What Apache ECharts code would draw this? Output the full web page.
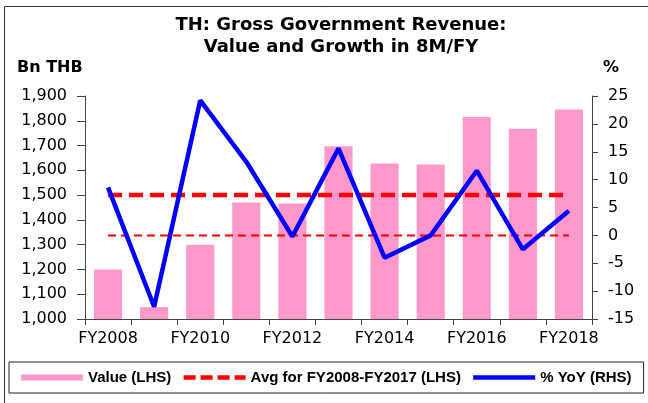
<!DOCTYPE html>
<html>
<head>
<meta charset="utf-8">
<script src="https://cdn.jsdelivr.net/npm/echarts@6/dist/echarts.min.js"></script>
<style>
html, body { margin: 0; padding: 0; background: #fff; }
#main { width: 648px; height: 403px; }
</style>
</head>
<body>
<div id="main"></div>
<script>
var years = ['FY2008','FY2009','FY2010','FY2011','FY2012','FY2013','FY2014','FY2015','FY2016','FY2017','FY2018'];
var value = [1200, 1048, 1300, 1470, 1466, 1697, 1628, 1624, 1815, 1768, 1846];
var avg = [1500, 1500, 1500, 1500, 1500, 1500, 1500, 1500, 1500, 1500, 1500];
var yoy = [8.6, -12.8, 24.2, 13.2, -0.2, 15.6, -4.0, 0.0, 11.6, -2.5, 4.4];
var zero = [0, 0, 0, 0, 0, 0, 0, 0, 0, 0, 0];

var myChart = echarts.init(document.getElementById('main'));
var fnt = 'DejaVu Sans';
var axisCol = '#444';

option = {
    animation: false,
    grid: { left: 85, right: 56, top: 96, bottom: 84 },
    graphic: [
        { type: 'rect', shape: { x: 4.5, y: 6.5, width: 700, height: 500 },
          style: { fill: 'none', stroke: '#333', lineWidth: 1 } },
        { type: 'text', x: 341, y: 14, style: { text: 'TH: Gross Government Revenue:\nValue and Growth in 8M/FY',
          fontFamily: fnt, fontWeight: 'bold', fontSize: 18, lineHeight: 22, align: 'center', fill: '#000' } },
        { type: 'text', x: 17, y: 60, style: { text: 'Bn THB', fontFamily: fnt, fontWeight: 'bold', fontSize: 16, fill: '#000' } },
        { type: 'text', x: 603, y: 60, style: { text: '%', fontFamily: fnt, fontWeight: 'bold', fontSize: 16, fill: '#000' } }
    ],
    legend: {
        left: 9, top: 362,
        padding: [8, 12, 8, 12],
        borderColor: '#222', borderWidth: 1,
        itemWidth: 62, itemHeight: 14, itemGap: 10,
        textStyle: { fontFamily: 'Liberation Sans', fontWeight: 'bold', fontSize: 15, color: '#000' },
        data: [
            { name: 'Value (LHS)', icon: 'path://M0,0 L62,0 L62,6 L0,6 Z' },
            { name: 'Avg for FY2008-FY2017 (LHS)', itemStyle: { opacity: 0 },
              lineStyle: { width: 4.5, type: [12, 5] } },
            { name: '% YoY (RHS)', itemStyle: { opacity: 0 }, lineStyle: { width: 4.5 } }
        ]
    },
    xAxis: {
        type: 'category',
        data: years,
        axisLine: { onZero: false, lineStyle: { color: axisCol } },
        axisTick: { show: true, interval: 0, length: 6, lineStyle: { color: axisCol } },
        axisLabel: { interval: 1, margin: 12, fontFamily: fnt, fontSize: 16, color: '#000' }
    },
    yAxis: [
        {
            type: 'value', min: 1000, max: 1900, interval: 100,
            splitLine: { show: false },
            axisLine: { show: true, lineStyle: { color: axisCol } },
            axisTick: { show: true, length: 8, lineStyle: { color: axisCol } },
            axisLabel: { margin: 18, fontFamily: fnt, fontSize: 16, color: '#000',
                formatter: function (v) { return String(v).replace(/\B(?=(\d{3})+(?!\d))/g, ','); } }
        },
        {
            type: 'value', min: -15, max: 25, interval: 5,
            splitLine: { show: false },
            axisLine: { show: true, lineStyle: { color: axisCol } },
            axisTick: { show: true, length: 6, lineStyle: { color: axisCol } },
            axisLabel: { margin: 16, fontFamily: fnt, fontSize: 16, color: '#000' }
        }
    ],
    series: [
        {
            name: 'Value (LHS)', type: 'bar', data: value,
            barCategoryGap: '39%',
            itemStyle: { color: '#FF99CC' }
        },
        {
            name: 'Avg for FY2008-FY2017 (LHS)', type: 'line', data: avg,
            symbol: 'none',
            lineStyle: { color: '#FF0000', width: 4.5, type: [14, 7] },
            itemStyle: { color: '#FF0000' }
        },
        {
            name: 'zero', type: 'line', yAxisIndex: 1, data: zero,
            symbol: 'none',
            lineStyle: { color: '#FF0000', width: 2, type: [8, 5] }
        },
        {
            name: '% YoY (RHS)', type: 'line', yAxisIndex: 1, data: yoy,
            symbol: 'none',
            lineStyle: { color: '#0000FF', width: 4.5 },
            itemStyle: { color: '#0000FF' }
        }
    ]
};
myChart.setOption(option);
</script>
</body>
</html>
